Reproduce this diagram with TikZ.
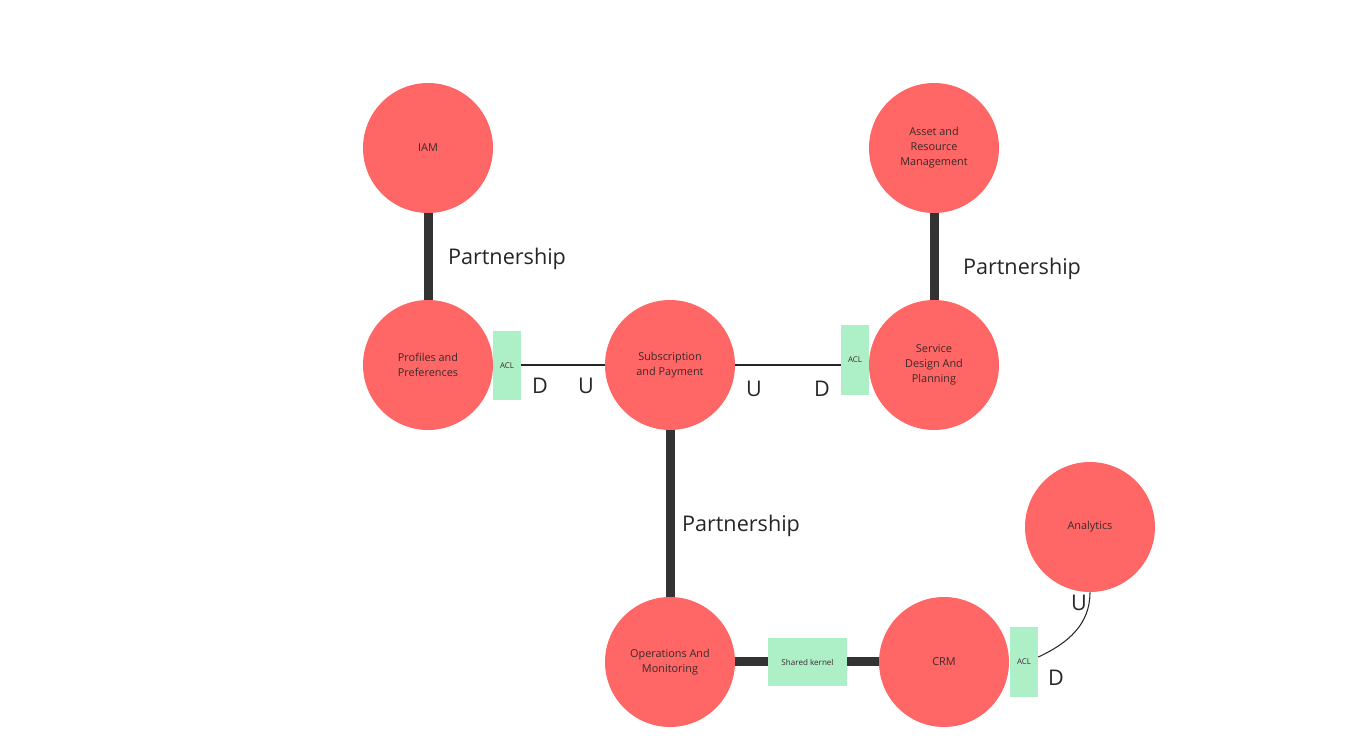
\documentclass[tikz,border=0pt]{standalone}
\usepackage{fontspec}
\setmainfont{Open Sans}
\definecolor{ctxred}{HTML}{FF6666}
\definecolor{aclgreen}{HTML}{ADF0C7}
\definecolor{linkgray}{HTML}{333333}
\definecolor{ctxtext}{HTML}{3B2A2A}
\begin{document}
\begin{tikzpicture}[x=0.02cm,y=-0.02cm]
      \tikzstyle{ctx}=[circle, fill=ctxred, minimum size=2.6cm, inner sep=0pt, align=center, text=ctxtext, font=\fontsize{6.2}{8.6}\selectfont]
      \tikzstyle{acl}=[rectangle, fill=aclgreen, minimum width=0.56cm, minimum height=1.4cm, inner sep=0pt, font=\fontsize{4.5}{5}\selectfont, text=ctxtext]
      \tikzstyle{partner}=[draw=linkgray, line width=0.18cm]
      \tikzstyle{thin}=[draw=black!85, line width=0.6pt]
      \tikzstyle{big}=[font=\fontsize{12.3}{14}\selectfont, text=black!85, inner sep=0pt]
      \useasboundingbox (0,0) rectangle (1347,742);
      % contexts
      \node [ctx] (iam) at (428,148) {IAM};
      \node [ctx] (prof) at (428,365) {Profiles and\\Preferences};
      \node [ctx] (sub) at (670,365) {Subscription\\and Payment};
      \node [ctx] (asset) at (934,148) {Asset and\\Resource\\Management};
      \node [ctx] (serv) at (934,365) {Service\\Design And\\Planning};
      \node [ctx] (ops) at (670,662) {Operations And\\Monitoring};
      \node [ctx] (crm) at (944,662) {CRM};
      \node [ctx] (ana) at (1090,527) {Analytics};
      % layers
      \node [acl] (aclprof) at (507,365.5) {ACL};
      \node [acl] (aclserv) at (855,360) {ACL};
      \node [acl] (aclcrm) at (1024,662) {ACL};
      \node [acl, minimum width=1.58cm, minimum height=0.96cm, font=\fontsize{4.6}{5}\selectfont] (kernel) at (807.5,662) {Shared kernel};
      % partnerships
      \draw [partner] (iam) -- (prof);
      \draw [partner] (asset) -- (serv);
      \draw [partner] (sub) -- (ops);
      \draw [partner] (ops) -- (kernel);
      \draw [partner] (kernel) -- (crm);
      \node [big] (p1) at (507,259) {Partnership};
      \node [big] (p2) at (1022,269) {Partnership};
      \node [big] (p3) at (741,526) {Partnership};
      % upstream / downstream
      \draw [thin] (aclprof.east |- prof) -- (sub);
      \draw [thin] (sub.east) -- (sub.east -| aclserv.west);
      \draw [thin] (aclcrm.east |- 0,657) to[out=25,in=-90] (ana.south);
      \node [big] (d1) at (540,386) {D};
      \node [big] (u1) at (586,386) {U};
      \node [big] (u2) at (754,389) {U};
      \node [big] (d2) at (822,389) {D};
      \node [big] (u3) at (1079,603) {U};
      \node [big] (d3) at (1056,678) {D};
\end{tikzpicture}
\end{document}
